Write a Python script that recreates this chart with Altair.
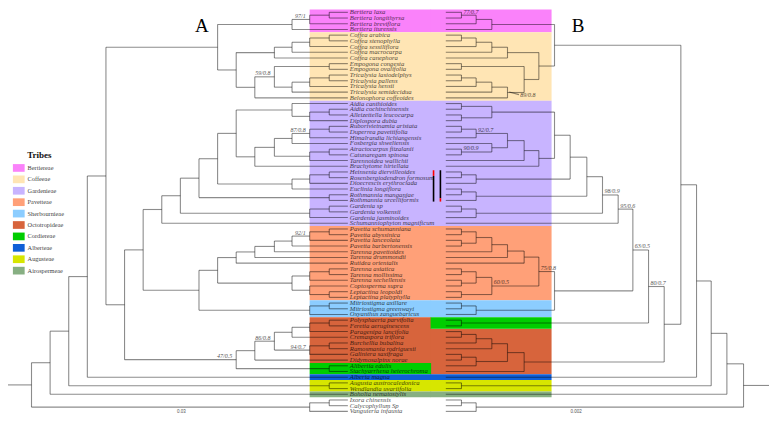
import altair as alt
import pandas as pd

# ---------------- data ----------------
taxa = [
    "Bertiera laxa", "Bertiera longithyrsa", "Bertiera breviflora", "Bertiera iturensis",
    "Coffea arabica", "Coffea stenophylla", "Coffea sessiliflora", "Coffea macrocarpa",
    "Coffea canephora", "Empogona congesta", "Empogona ovalifolia", "Tricalysia lasiodelphys",
    "Tricalysia pallens", "Tricalysia hensii", "Tricalysia semidecidua", "Belonophora coffeoides",
    "Aidia canthioides", "Aidia cochinchinensis", "Alleizettella leucocarpa", "Diplospora dubia",
    "Ruborivietnamia aristata", "Duperrea pavettifolia", "Himalrandia lichiangensis",
    "Fosbergia shweliensis", "Atractocarpus fitzalanii", "Catunaregam spinosa",
    "Tarennoidea wallichii", "Brachytome hirtellata", "Heinsenia diervilleoides",
    "Rosenbergiodendron formosum", "Dioecrescis erythroclada", "Euclinia longiflora",
    "Rothmannia manganjae", "Rothmannia urcelliformis", "Gardenia sp", "Gardenia volkensii",
    "Gardenia jasminoides", "Schumanniophyton magnificum", "Pavetta schumanniana",
    "Pavetta abyssinica", "Pavetta lanceolata", "Pavetta barbertonensis", "Tarenna pavettoides",
    "Tarenna drummondii", "Rutidea orientalis", "Tarenna asiatica", "Tarenna mollissima",
    "Tarenna sechellensis", "Coptosperma supra", "Leptactina leopoldi", "Leptactina platyphylla",
    "Mitriostigma axillare", "Mitriostigma greenwayi", "Oxyanthus zanguebaricus",
    "Polysphaeria parvifolia", "Feretia aeruginescens", "Paragenipa lancifolia",
    "Cremaspora triflora", "Burchellia bubalina", "Ramosmania rodriguesii", "Galiniera saxifraga",
    "Didymosalpinx norae", "Alibertia edulis", "Stachyarrhena heterochroma", "Alberta magna",
    "Augusta austrocaledonica", "Wendlandia uvariifolia", "Boholia nematostylis",
    "Ixora chinensis", "Calycophyllum Sp", "Vanguieria infausta",
]

tribe_names = ["Bertiereae", "Coffeeae", "Gardenieae", "Pavetteae", "Sherbournieae",
               "Octotropideae", "Cordiereae", "Alberteae", "Augusteae", "Airospermeae"]
tribe_colors = ["#FA82FA", "#FFE5B4", "#C8B4FF", "#FFA078", "#8CCDFF",
                "#D7643C", "#00CD00", "#0F5FD7", "#D7E600", "#87AF82"]
# first / last row of each tribe, tree A side and tree B side of the name column
tribe_rows_A = [(0, 3), (4, 15), (16, 37), (38, 50), (51, 53), (54, 61), (62, 63), (64, 64), (65, 66), (67, 67)]
tribe_rows_B = [(0, 3), (4, 15), (16, 37), (38, 50), (51, 53), (56, 63), (54, 55), (64, 64), (65, 66), (67, 67)]


def N(x, *kids, lab=None, mode=None):
    return {"x": x, "k": list(kids), "lab": lab, "mode": mode}


# Tree A (root on the left), node depths
A_bert = N(290, N(308, N(328, 0, 1), 2, lab="97/1"), 3)
A_coff = N(272, N(290, N(308, N(328, 4, 5), 6), 7), 8)
A_tric = N(290, N(308, N(328, 11, 12), 13), 14)
A_coffeeae = N(233, A_coff, N(252, N(272, N(328, 9, 10), A_tric, lab="59/0.8"), 15))
A_BC = N(214, A_bert, A_coffeeae)
A_aid = N(290, 16, N(308, N(328, 17, 18), 19))
A_rub = N(290, N(308, N(328, 20, 21), 22, lab="87/0.8"), 23)
A_atr = N(308, N(328, 24, 25), 26)
A_g233 = N(233, A_aid, N(252, N(272, A_rub, A_atr), 27))
A_hein = N(290, N(308, N(328, 28, 29), 30), 31)
A_g195 = N(195, N(214, A_g233, A_hein), N(328, 32, 33))
A_gard = N(157, N(176, A_g195, N(308, N(328, 34, 35), 36)), 37)
A_pav = N(290, N(308, N(328, 38, 39), 40, lab="92/1"), 41)
A_p233 = N(233, N(252, N(272, A_pav, 42), 43), 44)
A_p290 = N(290, N(308, N(328, 45, 46), 47), N(308, 48, N(328, 49, 50)))
A_p195 = N(195, N(214, A_p233, A_p290), N(308, N(328, 51, 52), 53))
A_o290 = N(290, N(308, N(328, 54, 55), 56), 57)
A_o252 = N(252, N(272, A_o290, N(308, N(328, 58, 59), 60, lab="94/0.7"), lab="86/0.8"), 61)
A_o233 = N(233, A_o252, N(328, 62, 63), lab="47/0.5")
A_n100 = N(100, A_BC, N(119, N(138, A_gard, A_p195), A_o233))
treeA = N(24, N(43, N(62, N(81, A_n100, 64), N(328, 65, 66)), 67), N(308, N(328, 68, 69), 70))

# Tree B (root on the right), node depths
B_bert = N(494, N(478, N(463, 0, 1, lab="77/0.7"), 2), 3)
B_coff = N(510, N(494, N(478, N(463, 4, 5), 6), 7), 8)
B_tric = N(510, N(494, N(478, N(463, 11, 12), 13), 14), 15, lab="89/0.8", mode="leader")
B_BC = N(558, B_bert, N(542, B_coff, N(527, N(463, 9, 10), B_tric)))
B_aid = N(494, N(463, 16, 17), N(463, 18, 19))
B_rub = N(478, N(463, 20, 21), 22, lab="92/0.7")
B_fos = N(494, 23, N(463, 24, 25, lab="90/0.9"))
B_g558 = N(558, B_aid, N(542, N(527, N(510, B_rub, B_fos), 26), 27))
B_g574 = N(574, B_g558, N(478, N(463, 28, 29), 30))
B_g591 = N(591, B_g574, N(478, N(463, 31, 32), 33))
B_g607 = N(607, B_g591, N(478, N(463, 34, 35), 36), lab="98/0.9")
B_g623 = N(623, B_g607, 37, lab="95/0.6")
B_p527 = N(527, N(510, N(494, N(478, N(463, 38, 39), N(463, 40, 41)), 42), 43), 44)
B_p494 = N(494, N(478, N(463, 45, 46), N(463, 47, 48)), N(463, 49, 50), lab="60/0.5")
B_p558 = N(558, N(542, B_p527, B_p494, lab="75/0.8"), N(478, N(463, 51, 52), 53))
B_n654 = N(654, N(638, B_g623, B_p558, lab="63/0.5"), N(463, 54, 55), lab="80/0.7")
B_o527 = N(527, N(510, N(494, N(478, N(463, 56, 57), 58), 59), N(478, N(463, 60, 61), 62)), 63)
B_n687 = N(687, B_BC, N(670, B_n654, B_o527))
treeB = N(751, N(734, N(718, N(703, B_n687, 64), N(463, 65, 66)), 67), N(478, N(463, 68, 69), 70))

tip_A, tip_B = 347, 447
root_end_A, root_end_B = 0, 777
ROW0, STEP = 4.5, 5.92

# marks between the tree B tips and the names (rows spanned, colour parts)
bar_parts = [
    {"col": 434.5, "r0": 27.7, "r1": 28.7, "c": "red"},
    {"col": 434.5, "r0": 28.7, "r1": 33.2, "c": "black"},
    {"col": 441.5, "r0": 27.7, "r1": 32.6, "c": "black"},
    {"col": 441.5, "r0": 32.6, "r1": 33.2, "c": "red"},
]


def ry(r):
    return ROW0 + STEP * r


def build(tree, tip_x, root_end, side):
    segs, labs = [], []

    def rec(n):
        if isinstance(n, int):
            return tip_x, ry(n)
        pts = [rec(k) for k in n["k"]]
        ys = [p[1] for p in pts]
        segs.append(dict(x=n["x"], y=min(ys), x2=n["x"], y2=max(ys)))
        for k, (cx, cy) in zip(n["k"], pts):
            segs.append(dict(x=n["x"], y=cy, x2=cx, y2=cy))
            if isinstance(k, dict) and k["lab"]:
                if k["mode"] == "leader":
                    segs.append(dict(x=cx + 1.7, y=cy - 0.5, x2=cx + 11.7, y2=cy + 2.2))
                    labs.append(dict(x=cx + 13, y=cy + 6, t=k["lab"], a="left"))
                elif side == "A":
                    labs.append(dict(x=cx - 4, y=cy - 0.6, t=k["lab"], a="right"))
                else:
                    labs.append(dict(x=cx + 2, y=cy - 0.6, t=k["lab"], a="left"))
        return n["x"], (min(ys) + max(ys)) / 2

    rx, rootY = rec(tree)
    segs.append(dict(x=root_end, y=rootY, x2=rx, y2=rootY))
    return segs, labs


segA, labA = build(treeA, tip_A, root_end_A, "A")
segB, labB = build(treeB, tip_B, root_end_B, "B")
seg_df = pd.DataFrame(segA + segB)
lab_df = pd.DataFrame(labA + labB)

band_rows = []
for name, col, ra, rb in zip(tribe_names, tribe_colors, tribe_rows_A, tribe_rows_B):
    band_rows.append(dict(x=308, x2=432, y=ry(ra[0]) - STEP / 2, y2=ry(ra[1]) + STEP / 2, c=col))
    band_rows.append(dict(x=431.5, x2=555, y=ry(rb[0]) - STEP / 2, y2=ry(rb[1]) + STEP / 2, c=col))
band_df = pd.DataFrame(band_rows)

name_df = pd.DataFrame({"x": tip_A + 2, "y": [ry(i) for i in range(len(taxa))], "t": taxa})

bar_df = pd.DataFrame([dict(x=b["col"], y=ry(b["r0"]), y2=ry(b["r1"]), c=b["c"]) for b in bar_parts])

LEG_Y0, LEG_STEP = 166.1, 11.85
leg_df = pd.DataFrame({
    "y": [LEG_Y0 + LEG_STEP * i for i in range(len(tribe_names))],
    "t": tribe_names, "c": tribe_colors,
})
leg_df["y0"] = leg_df["y"] - 4
leg_df["y1"] = leg_df["y"] + 4
leg_df["x0"] = 5
leg_df["x1"] = 17
leg_df["xt"] = 20

letters_df = pd.DataFrame({"x": [198, 582], "y": [19, 19], "t": ["A", "B"]})
scale_df = pd.DataFrame({"x": [177, 580], "y": [419.5, 419.5], "t": ["0.03", "0.002"]})
title_df = pd.DataFrame({"x": [32], "y": [153], "t": ["Tribes"]})

# ---------------- chart ----------------
xs = alt.Scale(domain=[0, 777], nice=False, zero=False)
ys = alt.Scale(domain=[0, 432], nice=False, zero=False, reverse=True)


def X(f="x"):
    return alt.X(f + ":Q", scale=xs, axis=None)


def Y(f="y"):
    return alt.Y(f + ":Q", scale=ys, axis=None)


bands = alt.Chart(band_df).mark_rect(strokeWidth=0).encode(
    x=X(), x2="x2", y=Y(), y2="y2", color=alt.Color("c:N", scale=None))

lines = alt.Chart(seg_df).mark_rule(color="black", opacity=0.45, strokeWidth=1.1).encode(
    x=X(), x2="x2", y=Y(), y2="y2")

bars = alt.Chart(bar_df).mark_rule(strokeWidth=1.6).encode(
    x=X(), y=Y(), y2="y2", color=alt.Color("c:N", scale=None))

names = alt.Chart(name_df).mark_text(
    align="left", baseline="middle", font="Liberation Serif", fontStyle="italic",
    fontSize=6.7, color="black", opacity=0.7).encode(x=X(), y=Y(), text="t:N")

labels_r = alt.Chart(lab_df[lab_df["a"] == "right"]).mark_text(
    align="right", baseline="bottom", font="Liberation Serif", fontStyle="italic",
    fontSize=6, color="black", opacity=0.7).encode(x=X(), y=Y(), text="t:N")
labels_l = alt.Chart(lab_df[lab_df["a"] == "left"]).mark_text(
    align="left", baseline="bottom", font="Liberation Serif", fontStyle="italic",
    fontSize=6, color="black", opacity=0.7).encode(x=X(), y=Y(), text="t:N")

leg_sw = alt.Chart(leg_df).mark_rect(strokeWidth=0).encode(
    x=X("x0"), x2="x1", y=Y("y0"), y2="y1", color=alt.Color("c:N", scale=None))
leg_tx = alt.Chart(leg_df).mark_text(
    align="left", baseline="middle", font="Liberation Serif", fontSize=6.3,
    color="#444444").encode(x=X("xt"), y=Y(), text="t:N")
leg_title = alt.Chart(title_df).mark_text(
    align="center", baseline="middle", font="Liberation Serif", fontSize=9,
    fontWeight="bold", color="#111111").encode(x=X(), y=Y(), text="t:N")

letters = alt.Chart(letters_df).mark_text(
    align="center", baseline="middle", font="Liberation Serif", fontSize=19,
    color="black").encode(x=X(), y=Y(), text="t:N")
scales = alt.Chart(scale_df).mark_text(
    align="center", baseline="middle", font="Liberation Sans", fontSize=4.5,
    color="#555555").encode(x=X(), y=Y(), text="t:N")

chart = alt.layer(
    bands, lines, bars, names, labels_r, labels_l, leg_sw, leg_tx, leg_title, letters, scales
).properties(
    width=761, height=416, padding=0, autosize="none"
).configure_view(strokeWidth=0)

chart.save("out.html", embed_options={"renderer": "svg", "actions": False})
